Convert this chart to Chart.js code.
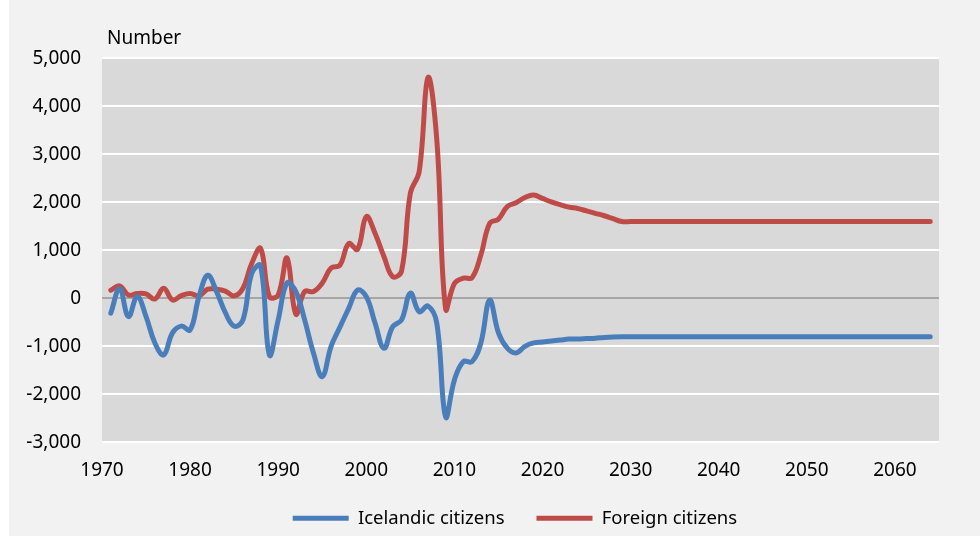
<!DOCTYPE html>
<html>
<head>
<meta charset="utf-8">
<script src="https://cdn.jsdelivr.net/npm/chart.js@4.4.1/dist/chart.umd.min.js"></script>
<style>
  html, body { margin: 0; padding: 0; background: #ffffff; overflow: hidden; }
  #wrap { position: relative; width: 980px; height: 536px; }
  canvas { display: block; }
</style>
</head>
<body>
<div id="wrap"><canvas id="c" width="980" height="536"></canvas></div>
<script>
const years = [
  1971,1972,1973,1974,1975,1976,1977,1978,1979,1980,
  1981,1982,1983,1984,1985,1986,1987,1988,1989,1990,
  1991,1992,1993,1994,1995,1996,1997,1998,1999,2000,
  2001,2002,2003,2004,2005,2006,2007,2008,2009,2010,
  2011,2012,2013,2014,2015,2016,2017,2018,2019,2020,
  2021,2022,2023,2024,2025,2026,2027,2028,2029,2030,
  2031,2032,2033,2034,2035,2036,2037,2038,2039,2040,
  2041,2042,2043,2044,2045,2046,2047,2048,2049,2050,
  2051,2052,2053,2054,2055,2056,2057,2058,2059,2060,
  2061,2062,2063,2064
];

const icelandic = [
  -310,200,-380,40,-380,-930,-1180,-720,-580,-660,
  30,480,140,-300,-580,-450,520,680,-1180,-450,
  320,140,-450,-1140,-1630,-1000,-600,-210,170,35,
  -520,-1040,-590,-450,110,-280,-160,-520,-2470,-1700,
  -1320,-1320,-930,-40,-720,-1040,-1140,-1000,-930,-910,
  -890,-870,-850,-850,-840,-830,-815,-805,-800,-800,
  -800,-800,-800,-800,-800,-800,-800,-800,-800,-800,
  -800,-800,-800,-800,-800,-800,-800,-800,-800,-800,
  -800,-800,-800,-800,-800,-800,-800,-800,-800,-800,
  -800,-800,-800,-800
];

const foreign = [
  170,260,70,100,90,-15,210,-35,55,100,
  50,190,190,150,50,210,730,1040,35,70,
  840,-330,140,140,320,630,690,1140,1020,1700,
  1350,870,450,570,2190,2640,4600,3300,-220,310,
  420,430,900,1560,1650,1910,1990,2100,2150,2080,
  2010,1950,1900,1870,1820,1770,1720,1660,1600,1600,
  1600,1600,1600,1600,1600,1600,1600,1600,1600,1600,
  1600,1600,1600,1600,1600,1600,1600,1600,1600,1600,
  1600,1600,1600,1600,1600,1600,1600,1600,1600,1600,
  1600,1600,1600,1600
];

const xTickYears = [1970, 1980, 1990, 2000, 2010, 2020, 2030, 2040, 2050, 2060];
const seriesNames = ['Icelandic citizens', 'Foreign citizens'];
const yTitle = 'Number';

const FONT = '"Noto Sans", "Open Sans", sans-serif';
const FS = 19;
const LFS = 18.5;
const LEG_PAD = 32;
const BOTTOM_PAD = -1.5;
const PLOT_TOP = 58.3, PLOT_BOTTOM = 442.3, PLOT_LEFT = 102, PLOT_RIGHT = 939;
const LEGEND_START = 292.7;

const bgPlugin = {
  id: 'bg',
  afterLayout(chart) {
    const lg = chart.legend;
    if (!lg || !lg.lineWidths) return;
    const start = ((lg.left + LEG_PAD) + (lg.right - lg.lineWidths[0])) / 2;
    const dx = LEGEND_START - start;
    lg.left += dx;
    lg.right += dx;
  },
  beforeDraw(chart) {
    const ctx = chart.ctx;
    ctx.save();
    ctx.fillStyle = '#f2f2f2';
    ctx.fillRect(0, 0, chart.width, chart.height);
    ctx.fillStyle = '#ffffff';
    ctx.fillRect(0, 0, 9, chart.height);
    const a = chart.chartArea;
    ctx.fillStyle = '#d9d9d9';
    ctx.fillRect(a.left, a.top, a.right - a.left, a.bottom - a.top);
    ctx.restore();
  },
  afterDraw(chart) {
    const ctx = chart.ctx;
    ctx.save();
    ctx.fillStyle = '#000000';
    ctx.font = FS + 'px ' + FONT;
    ctx.textAlign = 'left';
    ctx.textBaseline = 'alphabetic';
    ctx.fillText(yTitle, 107, 43.5);
    ctx.restore();
  }
};

const toPts = (arr) => arr.map((v, i) => ({x: years[i], y: v}));

new Chart(document.getElementById('c'), {
  type: 'line',
  data: {
    datasets: [
      {
        label: seriesNames[0],
        data: toPts(icelandic),
        borderColor: '#4a7ebb',
        backgroundColor: '#4a7ebb',
        borderWidth: 5,
        borderCapStyle: 'round',
        borderJoinStyle: 'round',
        pointRadius: 0,
        tension: 0.4,
        fill: false
      },
      {
        label: seriesNames[1],
        data: toPts(foreign),
        borderColor: '#be4b48',
        backgroundColor: '#be4b48',
        borderWidth: 5,
        borderCapStyle: 'round',
        borderJoinStyle: 'round',
        pointRadius: 0,
        tension: 0.4,
        fill: false
      }
    ]
  },
  options: {
    responsive: false,
    animation: false,
    devicePixelRatio: 1,
    layout: { padding: { left: 0, right: 980 - PLOT_RIGHT, top: PLOT_TOP, bottom: BOTTOM_PAD } },
    plugins: {
      legend: {
        position: 'bottom',
        align: 'center',
        labels: {
          usePointStyle: true,
          pointStyle: 'line',
          pointStyleWidth: 56,
          padding: LEG_PAD,
          color: '#000000',
          font: { family: FONT, size: LFS }
        }
      },
      tooltip: { enabled: false }
    },
    scales: {
      x: {
        type: 'linear',
        min: 1970,
        max: 2065,
        grid: { display: false, drawTicks: false },
        border: { display: false },
        afterBuildTicks: (s) => { s.ticks = xTickYears.map(v => ({ value: v })); },
        ticks: {
          padding: 17,
          color: '#000000',
          font: { family: FONT, size: FS },
          maxRotation: 0,
          autoSkip: false,
          callback: (v) => String(v)
        },
        afterFit: (s) => {
          const legendTop = 536 - BOTTOM_PAD - (LFS + LEG_PAD + 10);
          s.height = legendTop - PLOT_BOTTOM;
        }
      },
      y: {
        min: -3000,
        max: 5000,
        grid: {
          drawTicks: false,
          lineWidth: 2,
          color: (c) => (c.tick && c.tick.value === 0) ? '#a6a6a6' : '#ffffff'
        },
        border: { display: false },
        ticks: {
          stepSize: 1000,
          padding: 21,
          color: '#000000',
          font: { family: FONT, size: FS },
          callback: (v) => Number(v).toLocaleString('en-US')
        },
        afterFit: (s) => { s.width = PLOT_LEFT; }
      }
    }
  },
  plugins: [bgPlugin]
});
</script>
</body>
</html>
